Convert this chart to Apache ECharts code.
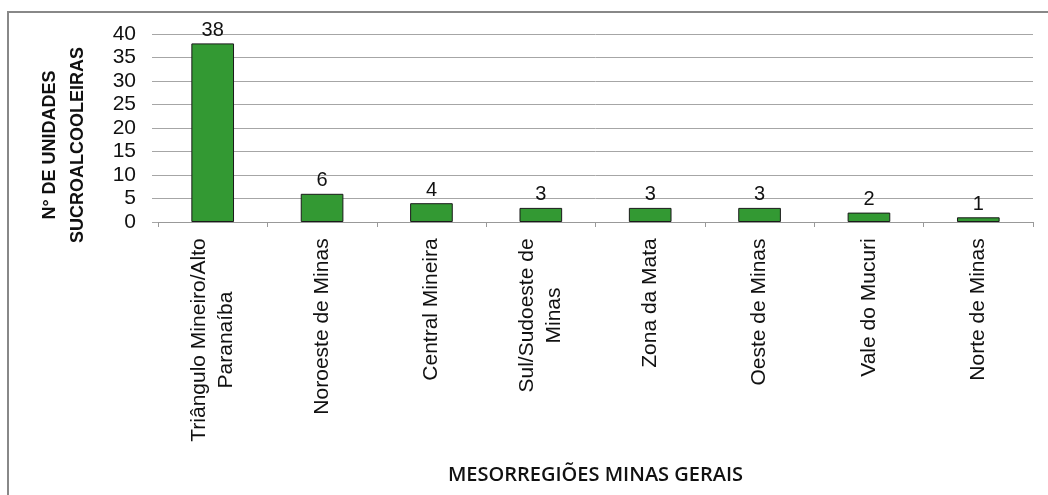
<!DOCTYPE html>
<html>
<head>
<meta charset="utf-8">
<script src="https://cdn.jsdelivr.net/npm/echarts@6/dist/echarts.min.js"></script>
<style>
  html, body { margin: 0; padding: 0; background: #fff; }
  #chart { width: 1048px; height: 495px; }
</style>
</head>
<body>
<div id="chart"></div>
<script>
// dados
const categories = [
  'Triângulo Mineiro/Alto\nParanaíba',
  'Noroeste de Minas',
  'Central Mineira',
  'Sul/Sudoeste de\nMinas',
  'Zona da Mata',
  'Oeste de Minas',
  'Vale do Mucuri',
  'Norte de Minas'
];
const unidades = [38, 6, 4, 3, 3, 3, 2, 1];
const yTicks = [0, 5, 10, 15, 20, 25, 30, 35, 40];

const labelFont = '21px "Liberation Sans", Arial, sans-serif';

// largura da linha mais longa de cada rótulo, para centralizar as linhas
const measure = document.createElement('canvas').getContext('2d');
measure.font = labelFont;
const labelWidth = (txt) =>
  Math.max(...txt.split('\n').map((s) => measure.measureText(s).width));

const chart = echarts.init(document.getElementById('chart'));

chart.setOption({
  animation: false,
  textStyle: { fontFamily: '"Liberation Sans", Arial, sans-serif' },
  graphic: [
    {
      type: 'rect',
      shape: { x: 8, y: 12, width: 1100, height: 600 },
      style: { fill: 'none', stroke: '#888', lineWidth: 2 },
      silent: true
    }
  ],
  grid: { left: 158, right: 15, top: 34, bottom: 273 },
  xAxis: {
    type: 'category',
    data: categories,
    name: 'MESORREGIÕES MINAS GERAIS',
    nameLocation: 'middle',
    nameGap: 243,
    nameTextStyle: {
      fontFamily: '"Open Sans", sans-serif',
      fontSize: 20,
      fontWeight: 600,
      color: '#111'
    },
    axisLine: { lineStyle: { color: '#999', width: 1 } },
    axisTick: { show: true, length: 5, lineStyle: { color: '#999' } },
    axisLabel: {
      interval: 0,
      rotate: 90,
      margin: 16,
      color: '#111',
      fontSize: 21,
      lineHeight: 27,
      formatter: (v) => {
        const w = Math.ceil(labelWidth(v));
        return v.split('\n').map((s) => '{l' + w + '|' + s + '}').join('\n');
      },
      rich: Object.fromEntries(
        categories.map((c) => {
          const w = Math.ceil(labelWidth(c));
          return ['l' + w, { width: w, align: 'center', fontSize: 21, lineHeight: 27, color: '#111' }];
        })
      )
    }
  },
  yAxis: {
    type: 'value',
    min: yTicks[0],
    max: yTicks[yTicks.length - 1],
    interval: 5,
    name: 'N° DE UNIDADES\nSUCROALCOOLEIRAS',
    nameLocation: 'middle',
    nameGap: 66,
    nameRotate: 90,
    nameTextStyle: {
      fontSize: 18,
      fontWeight: 'bold',
      lineHeight: 28,
      color: '#111',
      padding: [0, 34, 0, 0]
    },
    axisLine: { show: false },
    axisTick: { show: true, length: 6, lineStyle: { color: '#a6a6a6' } },
    axisLabel: { margin: 22, fontSize: 21, color: '#111' },
    splitLine: { lineStyle: { color: '#a6a6a6', width: 1 } }
  },
  series: [
    {
      type: 'bar',
      data: unidades,
      barWidth: '39%',
      itemStyle: { color: '#339933', borderColor: '#1a1a1a', borderWidth: 1 },
      label: {
        show: true,
        position: 'top',
        distance: 3,
        fontSize: 20,
        color: '#111'
      }
    }
  ]
});

window.addEventListener('resize', () => {
  chart.resize();
});
</script>
</body>
</html>
